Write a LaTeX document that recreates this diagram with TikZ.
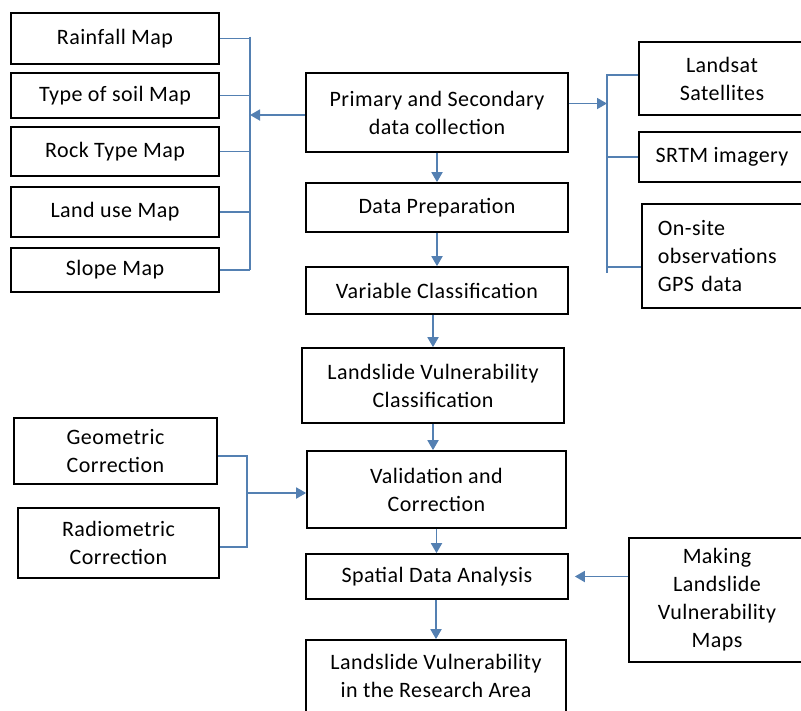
\documentclass[tikz,border=0pt]{standalone}
\usepackage{fontspec}
\setmainfont{Carlito}[LetterSpace=2]
\usetikzlibrary{arrows.meta}
\begin{document}
\begin{tikzpicture}[x=1pt, y=-1pt,
box/.style={draw, line width=1.7pt, inner sep=0pt, align=center, font=\fontsize{22}{28}\selectfont},
link/.style={draw=MyBlue, line width=1.8pt},
arr/.style={link, -{Triangle[width=11pt, length=10pt]}}]
\definecolor{MyBlue}{RGB}{84, 128, 178}
\useasboundingbox (0,0) rectangle (801,710);
\node[box, minimum width=208pt, minimum height=51pt] (rain) at (115,38.5) {Rainfall Map};
\node[box, minimum width=208pt, minimum height=45pt] (soil) at (115,95.5) {Type of soil Map};
\node[box, minimum width=208pt, minimum height=49pt] (rock) at (115,151.5) {Rock Type Map};
\node[box, minimum width=208pt, minimum height=50pt] (landuse) at (115,212) {Land use Map};
\node[box, minimum width=208pt, minimum height=44pt] (slope) at (115,270) {Slope Map};
\node[box, minimum width=262pt, minimum height=79pt] (primary) at (437,112.5) {Primary and Secondary\\data collection};
\node[box, minimum width=262pt, minimum height=49pt] (prep) at (437,207.5) {Data Preparation};
\node[box, minimum width=262pt, minimum height=47pt] (varclass) at (437,290.5) {Variable Classification};
\node[box, minimum width=262pt, minimum height=75pt] (lsclass) at (433,385.5) {Landslide Vulnerability\\Classification};
\node[box, minimum width=259pt, minimum height=77pt] (valid) at (436.5,489.5) {Validation and\\Correction};
\node[box, minimum width=262pt, minimum height=45pt] (spatial) at (437,576.5) {Spatial Data Analysis};
\node[box, minimum width=260pt, minimum height=72pt] (final) at (436,676) {Landslide Vulnerability\\in the Research Area};
\node[box, minimum width=166pt, minimum height=73pt] (landsat) at (722,78.5) {Landsat\\Satellites};
\node[box, minimum width=166pt, minimum height=50pt] (srtm) at (722,157) {SRTM imagery};
\node[box, align=left, anchor=west, text width=150pt, inner xsep=16pt, minimum height=104pt] (onsite) at (641,256) {On-site\\observations\\GPS data};
\node[box, minimum width=203pt, minimum height=66pt] (geo) at (115.5,451) {Geometric\\Correction};
\node[box, minimum width=201pt, minimum height=70pt] (rad) at (118.5,543) {Radiometric\\Correction};
\node[box, minimum width=176pt, minimum height=124pt] (making) at (717,600) {Making\\Landslide\\Vulnerability\\Maps};
\coordinate (lbus) at (250,0);
\coordinate (rbus) at (607,0);
\coordinate (gbus) at (247,0);
\foreach \n in {rain, soil, rock, landuse, slope}{
\draw[link] (\n.east) -- (\n.east -| lbus);
}
\draw[link] ([yshift=2pt]rain.east -| lbus) -- (slope.east -| lbus);
\draw[arr] ([yshift=-2.5pt]primary.west) -- ([yshift=-2.5pt]primary.west -| lbus);
\draw[link] ([yshift=3.5pt]landsat.west) -- ([yshift=3.5pt]landsat.west -| rbus) -- ([yshift=-17pt]onsite.west -| rbus);
\draw[link] (srtm.west) -- (srtm.west -| rbus);
\draw[link] ([yshift=-11pt]onsite.west) -- ([yshift=-11pt]onsite.west -| rbus);
\draw[arr] ([yshift=9pt]primary.east) -- ([yshift=9pt]primary.east -| rbus);
\draw[link] ([yshift=-5pt]geo.east) -- ([yshift=-5pt]geo.east -| gbus) -- ([yshift=-4pt]rad.east -| gbus) -- ([yshift=-4pt]rad.east);
\draw[arr] ([yshift=-3.5pt]valid.west -| gbus) -- ([yshift=-3.5pt]valid.west);
\draw[arr] (primary.south) -- (prep.north);
\draw[arr] (prep.south) -- (varclass.north);
\draw[arr] (varclass.south -| lsclass.north) -- (lsclass.north);
\draw[arr] (lsclass.south) -- (lsclass.south |- valid.north);
\draw[arr] (valid.south) -- (valid.south |- spatial.north);
\draw[arr] (spatial.south -| final.north) -- (final.north);
\draw[arr, shorten >=6pt] (making.west |- spatial.east) -- (spatial.east);
\end{tikzpicture}
\end{document}
